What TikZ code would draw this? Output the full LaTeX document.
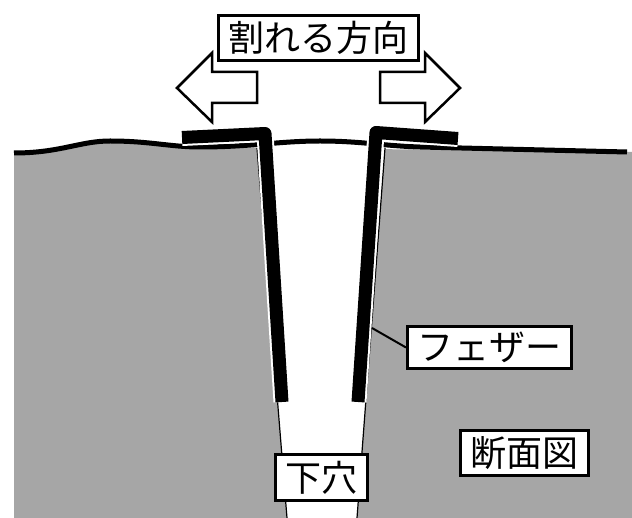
\documentclass[tikz,border=0pt]{standalone}
\usepackage{fontspec}
\setmainfont{Noto Sans CJK JP}
\definecolor{ground}{RGB}{166,166,166}

\begin{document}
\begin{tikzpicture}[x=1pt, y=-1pt,
  every node/.style={draw, fill=white, line width=3pt, font=\fontsize{36}{36}\selectfont, inner xsep=10pt, inner ysep=6pt},
  arrowbox/.style={draw, fill=white, line width=2.5pt, line join=miter},
  feather/.style={line width=13pt, line join=round}]

\useasboundingbox (0,0) rectangle (632,518);

% Ground section
\fill[ground] (14,518) -- (14,153) .. controls (60,153) and (80,141) .. (110,141)
  .. controls (150,141) and (170,147) .. (200,147) -- (627,152) -- (632,152) -- (632,518) -- cycle;

% Pilot hole
\fill[white] (255.5,130) -- (386.4,130) -- (357,518) -- (287,518) -- cycle;
\draw[line width=1.2pt] (257,148) -- (287,518);
\draw[line width=1.2pt] (385,148) -- (357,518);

% Surface
\draw[line width=5pt] (14,153) .. controls (60,153) and (80,141) .. (110,141)
  .. controls (150,141) and (170,147) .. (200,147)
  .. controls (250,147) and (280,141) .. (320,141)
  .. controls (360,141) and (385,146) .. (420,147) -- (627,152);

% Feathers
\draw[feather, white, line width=17pt] (182,137.5) -- (265,133.5) -- (282,402);
\draw[feather] (182,137.5) -- (265,133.5) -- (282,402);
\draw[feather, white, line width=17pt] (458,138.5) -- (376,132.5) -- (358,402);
\draw[feather] (458,138.5) -- (376,132.5) -- (358,402);

% Direction arrows
\draw[arrowbox] (177,88) -- (212,53) -- (212,72) -- (257,72) -- (257,103) -- (212,103) -- (212,122) -- cycle;
\draw[arrowbox] (460,88) -- (425,53) -- (425,72) -- (380,72) -- (380,103) -- (425,103) -- (425,122) -- cycle;

% Labels
\node (dir) at (318,38) {割れる方向};
\node (fz) at (489.5,347.5) {フェザー};
\node (sec) at (524,453) {断面図};
\node (hole) at (321.5,477.5) {下穴};

\coordinate (fpt) at (372,328);
\draw[line width=2pt] (fpt) -- (fz.west);

\end{tikzpicture}
\end{document}
